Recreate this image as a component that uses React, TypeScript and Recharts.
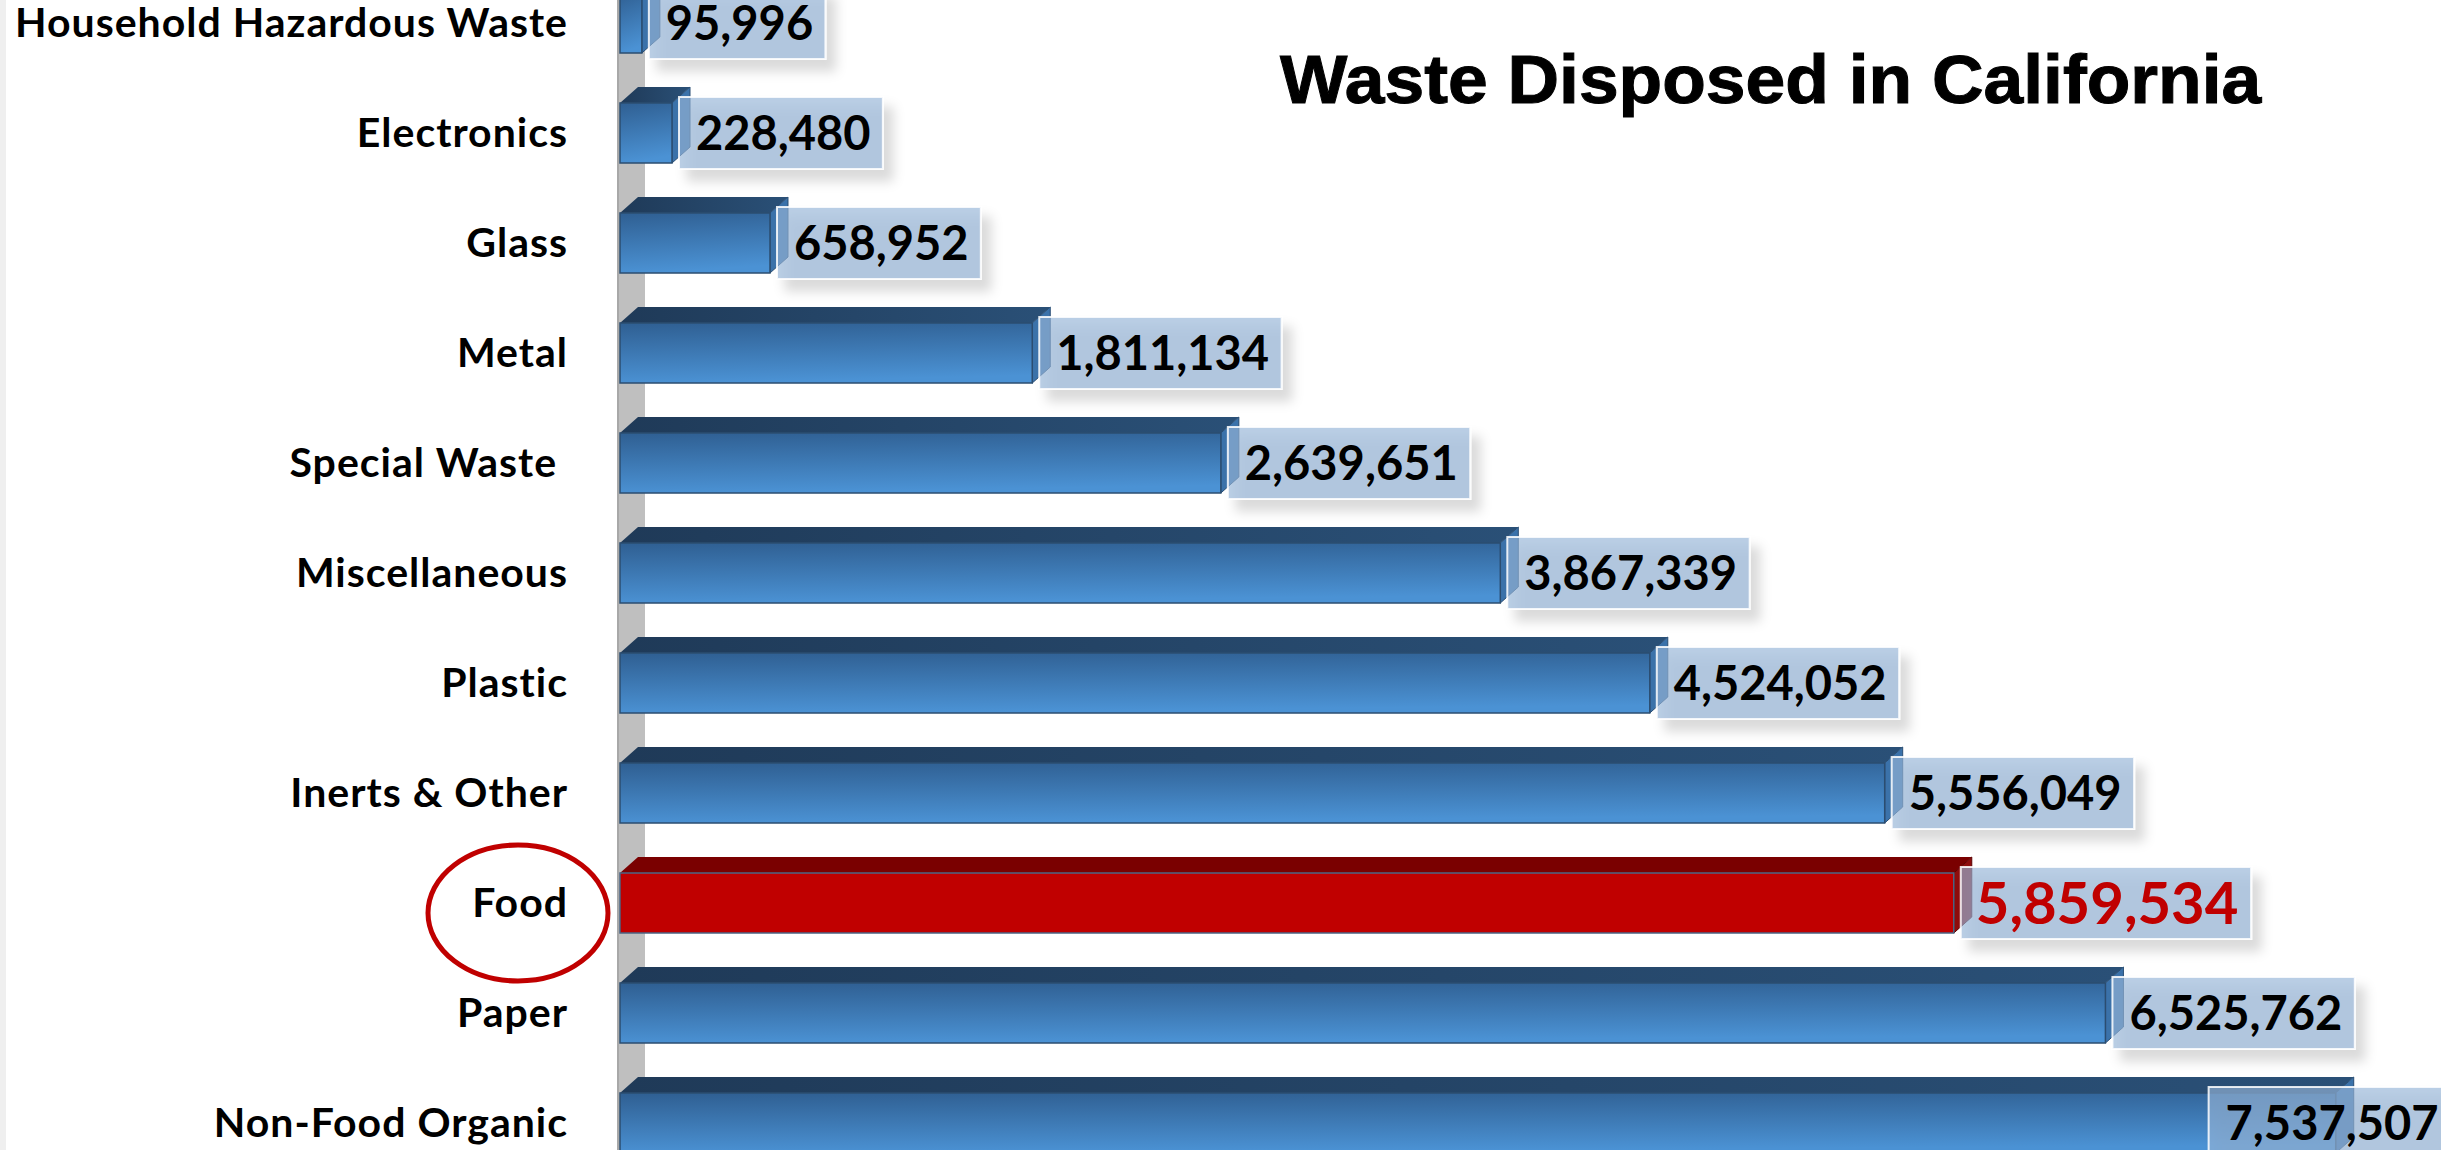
import React from 'react';
import { BarChart, Bar, XAxis, YAxis, LabelList } from 'recharts';

const categories = [
  'Household Hazardous Waste',
  'Electronics',
  'Glass',
  'Metal',
  'Special Waste ',
  'Miscellaneous',
  'Plastic',
  'Inerts & Other',
  'Food',
  'Paper',
  'Non-Food Organic',
];
const tons = [95996, 228480, 658952, 1811134, 2639651, 3867339, 4524052, 5556049, 5859534, 6525762, 7537507];
const highlighted = 'Food';
const title = 'Waste Disposed in California';

const data = categories.map((name, i) => ({ name, tons: tons[i] }));

const W = 2441;
const DX = 18;
const DY = 16;
const LABEL_FONT = 'Lato, "Noto Sans", sans-serif';

const fmt = (v: number) => v.toLocaleString('en-US');

// rough Lato bold advance widths, enough to size the label boxes
const textWidth = (s: string, fs: number) =>
  s.split('').reduce((acc, ch) => acc + (ch === ',' ? 0.24 : 0.58), 0) * fs;

const Bar3D = (props: any) => {
  const { x, y, width, height, payload } = props;
  const hot = payload?.name === highlighted;
  const w = Math.max(width, 0);
  const top = `${x},${y} ${x + DX},${y - DY} ${x + w + DX},${y - DY} ${x + w},${y}`;
  const side = `${x + w},${y} ${x + w + DX},${y - DY} ${x + w + DX},${y + height - DY} ${x + w},${y + height}`;
  return (
    <g>
      <polygon points={top} fill={hot ? '#7a0000' : 'url(#blueTop)'} />
      <polygon points={side} fill={hot ? '#8e0c0c' : '#3b72aa'} stroke={hot ? '#5a0000' : '#2a4e74'} strokeWidth={1} />
      <rect
        x={x}
        y={y}
        width={w}
        height={height}
        fill={hot ? '#c00000' : 'url(#blueFront)'}
        stroke={hot ? '#4b6584' : '#2b4d70'}
        strokeWidth={1.5}
      />
    </g>
  );
};

const ValueLabel = (props: any) => {
  const { x, y, width, height, value, index } = props;
  const hot = categories[index] === highlighted;
  const fs = hot ? 58 : 47;
  const s = fmt(value);
  const tw = textWidth(s, fs);
  const boxW = tw + (hot ? 27 : 29);
  const boxH = 72;
  const cy = y + height / 2;
  const bx = Math.min(x + width + 7, W - boxW + 10);
  return (
    <g>
      <rect
        x={bx}
        y={cy - boxH / 2}
        width={boxW}
        height={boxH}
        fill="#95b3d7"
        fillOpacity={0.65}
        stroke="#ffffff"
        strokeOpacity={0.85}
        strokeWidth={2}
        filter="url(#boxShadow)"
      />
      <text
        x={bx + (hot ? 15 : 17)}
        y={cy + fs * 0.36}
        fontFamily={LABEL_FONT}
        fontWeight={700}
        fontSize={fs}
        fill={hot ? '#c00000' : '#000000'}
      >
        {s}
      </text>
    </g>
  );
};

const CategoryTick = (props: any) => {
  const { y, payload } = props;
  const hot = payload.value === highlighted;
  return (
    <g>
      {hot && <ellipse cx={518} cy={y + 10} rx={90} ry={68} fill="none" stroke="#c00000" strokeWidth={5} />}
      <text
        x={568}
        y={y + 14}
        textAnchor="end"
        fontFamily={LABEL_FONT}
        fontWeight={700}
        fontSize={41}
        letterSpacing={1}
        fill="#000"
        style={{ whiteSpace: 'pre' }}
      >
        {payload.value}
      </text>
    </g>
  );
};

export default function App() {
  return (
    <div style={{ position: 'fixed', left: 0, top: 0, width: W, height: 1150, overflow: 'hidden', background: '#fff' }}>
      <div style={{ position: 'absolute', left: 0, top: 0, width: 6, height: 1150, background: '#efefef' }} />
      <div
        style={{
          position: 'absolute',
          left: 617,
          top: 0,
          width: 28,
          height: 1150,
          background: '#bfbfbf',
          borderLeft: '2px solid #a8a8a8',
          boxSizing: 'border-box',
        }}
      />
      <div
        style={{
          position: 'absolute',
          left: 1280,
          top: 45,
          fontFamily: '"Liberation Sans", Arial, sans-serif',
          fontWeight: 700,
          fontSize: 68,
          lineHeight: 1,
          color: '#000',
          whiteSpace: 'nowrap',
          transform: 'scaleX(1.05)',
          transformOrigin: 'left top',
          WebkitTextStroke: '1px #000',
        }}
      >
        {title}
      </div>
      <div style={{ position: 'absolute', left: 0, top: -32 }}>
        <BarChart width={W} height={1210} data={data} layout="vertical" margin={{ top: 0, right: 0, bottom: 0, left: 0 }}>
          <defs>
            <linearGradient id="blueFront" x1="0" y1="0" x2="0.15" y2="1">
              <stop offset="0%" stopColor="#2f5f92" />
              <stop offset="100%" stopColor="#4b92d4" />
            </linearGradient>
            <linearGradient id="blueTop" x1="0" y1="0" x2="1" y2="0">
              <stop offset="0%" stopColor="#1f3a58" />
              <stop offset="100%" stopColor="#2a5077" />
            </linearGradient>
            <filter id="boxShadow" x="-20%" y="-30%" width="150%" height="180%">
              <feDropShadow dx={9} dy={11} stdDeviation={6} floodColor="#000" floodOpacity={0.22} />
            </filter>
          </defs>
          <XAxis type="number" domain={[0, 8000000]} hide />
          <YAxis
            type="category"
            dataKey="name"
            width={620}
            axisLine={false}
            tickLine={false}
            interval={0}
            tick={<CategoryTick />}
          />
          <Bar dataKey="tons" barSize={60} shape={<Bar3D />} isAnimationActive={false}>
            <LabelList dataKey="tons" content={<ValueLabel />} />
          </Bar>
        </BarChart>
      </div>
    </div>
  );
}
